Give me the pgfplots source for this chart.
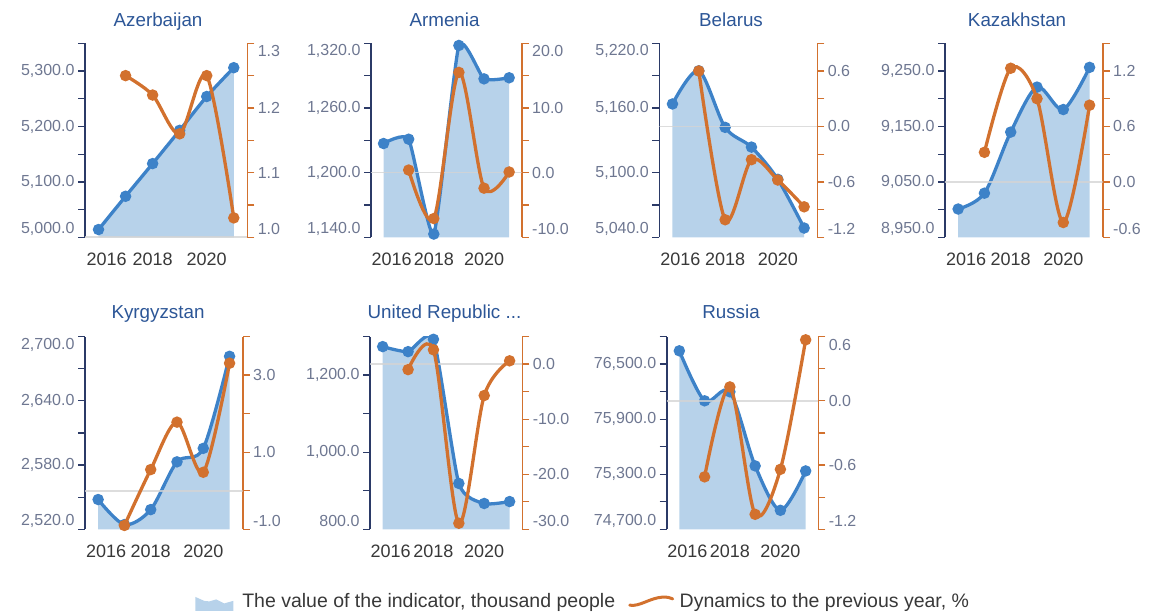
\documentclass[border=0pt]{standalone}
\usepackage{fontspec}
\setmainfont{Liberation Sans}
\usepackage{pgfplots}
\usepackage{pgfplotstable}
\pgfplotsset{compat=1.18}

\definecolor{areab}{HTML}{B7D2EA}
\definecolor{lineb}{HTML}{3D82C8}
\definecolor{orng}{HTML}{D2712E}
\definecolor{navy}{HTML}{2B3A67}
\definecolor{tickg}{HTML}{6E7791}
\definecolor{titleb}{HTML}{2C5697}
\definecolor{xg}{HTML}{383838}
\definecolor{zl}{HTML}{D4D4D4}

\newcommand\botl[1]{\raisebox{8pt}[\height][\depth]{#1}}
\newcommand\topl[1]{\raisebox{-8pt}[\height][\depth]{#1}}

\pgfplotsset{
  base/.style={scale only axis, xmin=2015.5, xmax=2021.5, clip mode=individual,
    scaled y ticks=false,
    tick align=outside, major tick length=7pt, minor tick length=7pt},
  leftax/.style={base, axis y line*=left, axis x line*=bottom,
    x axis line style={draw=none},
    y axis line style={draw=navy, line width=1.6pt, -},
    xtick={2016,2018,2020}, xticklabels={{\hspace*{16pt}2016},2018,2020},
    xticklabel style={font=\fontsize{18}{18}\selectfont, text=xg, yshift=-5pt},
    xtick style={draw=none},
    ytick style={draw=navy, line width=1.3pt},
    yticklabel style={font=\fontsize{16}{16}\selectfont, text=tickg},
    title style={anchor=base, font=\fontsize{18.8}{18.8}\selectfont, text=titleb}},
  rightax/.style={base, axis y line*=right, axis x line=none,
    y axis line style={draw=orng, line width=1.6pt, -},
    ytick style={draw=orng, line width=1.3pt},
    yticklabel style={font=\fontsize{16}{16}\selectfont, text=tickg}},
  areaplot/.style={draw=none, fill=areab, smooth, tension=#1},
  areaplot/.default=0.5,
  blueline/.style={lineb, line width=3.3pt, smooth, tension=#1, mark=*, mark size=4pt, mark options={draw=none, fill=lineb}},
  blueline/.default=0.5,
  orangeline/.style={orng, line width=3.3pt, smooth, tension=0.5, mark=*, mark size=4pt, mark options={draw=none, fill=orng}, forget plot},
  zeroline/.style={zl, line width=1.6pt, opacity=0.8, forget plot},
}

% value of the indicator, thousand people
\pgfplotstableread{
year v
2016 5014
2017 5074
2018 5133
2019 5193
2020 5254
2021 5306
}\azb
% dynamics to the previous year, %
\pgfplotstableread{
year v
2017 1.25
2018 1.22
2019 1.16
2020 1.25
2021 1.03
}\azo
\pgfplotstableread{
year v
2016 1227
2017 1231
2018 1143
2019 1318
2020 1287
2021 1288
}\amb
\pgfplotstableread{
year v
2017 0.4
2018 -7.1
2019 15.5
2020 -2.4
2021 0.1
}\amo
\pgfplotstableread{
year v
2016 5163.7
2017 5194.5
2018 5142
2019 5123.7
2020 5093.8
2021 5048.6
}\byb
\pgfplotstableread{
year v
2017 0.6
2018 -1.01
2019 -0.36
2020 -0.58
2021 -0.87
}\byo
\pgfplotstableread{
year v
2016 9001
2017 9029.6
2018 9139.8
2019 9221
2020 9180.5
2021 9256.6
}\kzb
\pgfplotstableread{
year v
2017 0.32
2018 1.23
2019 0.90
2020 -0.44
2021 0.83
}\kzo
\pgfplotstableread{
year v
2016 2547.8
2017 2524.4
2018 2538.4
2019 2583
2020 2595.6
2021 2681.6
}\kgb
\pgfplotstableread{
year v
2017 -0.9
2018 0.55
2019 1.78
2020 0.48
2021 3.31
}\kgo
\pgfplotstableread{
year v
2016 1274
2017 1261
2018 1293
2019 919
2020 867
2021 872
}\tzb
\pgfplotstableread{
year v
2017 -1.0
2018 2.6
2019 -28.9
2020 -5.7
2021 0.6
}\tzo
\pgfplotstableread{
year v
2016 76645
2017 76100
2018 76198
2019 75391
2020 74907
2021 75336
}\rub
\pgfplotstableread{
year v
2017 -0.71
2018 0.13
2019 -1.06
2020 -0.64
2021 0.57
}\ruo

\begin{document}
\begin{tikzpicture}[x=1pt,y=1pt]
\useasboundingbox (0,0) rectangle (1153,613);

% ---------------- Azerbaijan
\begin{axis}[leftax, at={(85pt,375.7pt)}, anchor=south west, width=162.3pt, height=194pt,
  ymin=5000, ymax=5350, ytick={5000,5100,5200,5300},
  yticklabels={{\botl{5,000.0}},{5,100.0},{5,200.0},{5,300.0}},
  minor ytick={5050,5150,5250,5350},
  title={Azerbaijan}, title style={at={(0.45,1)}, yshift=10.6pt}]
\addplot[areaplot] table[x=year,y=v]{\azb} \closedcycle;
\addplot[blueline] table[x=year,y=v]{\azb};
\end{axis}
\begin{axis}[rightax, at={(85pt,375.7pt)}, anchor=south west, width=162.3pt, height=194pt,
  ymin=1.0, ymax=1.3, ytick={1.0,1.1,1.2,1.3},
  yticklabels={{\botl{1.0}},{1.1},{1.2},{\topl{1.3}}},
  minor ytick={1.05,1.15,1.25}]
\addplot[zeroline] coordinates {(2015.5,1.0) (2021.5,1.0)};
\addplot[orangeline] table[x=year,y=v]{\azo};
\end{axis}

% ---------------- Armenia
\begin{axis}[leftax, at={(371pt,375.7pt)}, anchor=south west, width=150.7pt, height=194pt,
  ymin=1140, ymax=1320, ytick={1140,1200,1260,1320},
  yticklabels={{\botl{1,140.0}},{1,200.0},{1,260.0},{\topl{1,320.0}}},
  minor ytick={1170,1230,1290},
  title={Armenia}, title style={at={(0.488,1)}, yshift=10.6pt}]
\addplot[areaplot=0.3] table[x=year,y=v]{\amb} \closedcycle;
\addplot[blueline=0.3] table[x=year,y=v]{\amb};
\end{axis}
\begin{axis}[rightax, at={(371pt,375.7pt)}, anchor=south west, width=150.7pt, height=194pt,
  ymin=-10, ymax=20, ytick={-10,0,10,20},
  yticklabels={{\botl{-10.0}},{0.0},{10.0},{\topl{20.0}}},
  minor ytick={-5,5,15}]
\addplot[zeroline] coordinates {(2015.5,0) (2021.5,0)};
\addplot[orangeline] table[x=year,y=v]{\amo};
\end{axis}

% ---------------- Belarus
\begin{axis}[leftax, at={(659.3pt,375.7pt)}, anchor=south west, width=158pt, height=194pt,
  ymin=5040, ymax=5220, ytick={5040,5100,5160,5220},
  yticklabels={{\botl{5,040.0}},{5,100.0},{5,160.0},{\topl{5,220.0}}},
  minor ytick={5070,5130,5190},
  title={Belarus}, title style={at={(0.454,1)}, yshift=10.6pt}]
\addplot[areaplot] table[x=year,y=v]{\byb} \closedcycle;
\addplot[blueline] table[x=year,y=v]{\byb};
\end{axis}
\begin{axis}[rightax, at={(659.3pt,375.7pt)}, anchor=south west, width=158pt, height=194pt,
  ymin=-1.2, ymax=0.9, ytick={-1.2,-0.6,0,0.6},
  yticklabels={{\botl{-1.2}},{-0.6},{0.0},{0.6}},
  minor ytick={-0.9,-0.3,0.3,0.9}]
\addplot[zeroline] coordinates {(2015.5,0) (2021.5,0)};
\addplot[orangeline] table[x=year,y=v]{\byo};
\end{axis}

% ---------------- Kazakhstan
\begin{axis}[leftax, at={(945pt,375.7pt)}, anchor=south west, width=157.7pt, height=194pt,
  ymin=8950, ymax=9300, ytick={8950,9050,9150,9250},
  yticklabels={{\botl{8,950.0}},{9,050.0},{9,150.0},{9,250.0}},
  minor ytick={9000,9100,9200,9300},
  title={Kazakhstan}, title style={at={(0.457,1)}, yshift=10.6pt}]
\addplot[areaplot] table[x=year,y=v]{\kzb} \closedcycle;
\addplot[blueline] table[x=year,y=v]{\kzb};
\end{axis}
\begin{axis}[rightax, at={(945pt,375.7pt)}, anchor=south west, width=157.7pt, height=194pt,
  ymin=-0.6, ymax=1.5, ytick={-0.6,0,0.6,1.2},
  yticklabels={{\botl{-0.6}},{0.0},{0.6},{1.2}},
  minor ytick={-0.3,0.3,0.9,1.5}]
\addplot[zeroline] coordinates {(2015.5,0) (2021.5,0)};
\addplot[orangeline] table[x=year,y=v]{\kzo};
\end{axis}

% ---------------- Kyrgyzstan
\begin{axis}[leftax, at={(85pt,83.7pt)}, anchor=south west, width=157.7pt, height=192.7pt,
  ymin=2520, ymax=2700, ytick={2520,2580,2640,2700},
  yticklabels={{\botl{2,520.0}},{2,580.0},{2,640.0},{\topl{2,700.0}}},
  minor ytick={2550,2610,2670},
  title={Kyrgyzstan}, title style={at={(0.463,1)}, yshift=12.3pt}]
\addplot[areaplot] table[x=year,y=v]{\kgb} \closedcycle;
\addplot[blueline] table[x=year,y=v]{\kgb};
\end{axis}
\begin{axis}[rightax, at={(85pt,83.7pt)}, anchor=south west, width=157.7pt, height=192.7pt,
  ymin=-1, ymax=4, ytick={-1,1,3},
  yticklabels={{\botl{-1.0}},{1.0},{3.0}},
  minor ytick={0,2,4}]
\addplot[zeroline] coordinates {(2015.5,0) (2021.5,0)};
\addplot[orangeline] table[x=year,y=v]{\kgo};
\end{axis}

% ---------------- United Republic ...
\begin{axis}[leftax, at={(370pt,83.7pt)}, anchor=south west, width=152.3pt, height=192.7pt,
  ymin=800, ymax=1300, ytick={800,1000,1200},
  yticklabels={{\botl{800.0}},{1,000.0},{1,200.0}},
  minor ytick={900,1100,1300},
  title={United Republic ...}, title style={at={(0.489,1)}, yshift=12.3pt}]
\addplot[areaplot=0.35] table[x=year,y=v]{\tzb} \closedcycle;
\addplot[blueline=0.35] table[x=year,y=v]{\tzb};
\end{axis}
\begin{axis}[rightax, at={(370pt,83.7pt)}, anchor=south west, width=152.3pt, height=192.7pt,
  ymin=-30, ymax=5, ytick={-30,-20,-10,0},
  yticklabels={{\botl{-30.0}},{-20.0},{-10.0},{0.0}},
  minor ytick={-25,-15,-5,5}]
\addplot[zeroline] coordinates {(2015.5,0) (2021.5,0)};
\addplot[orangeline] table[x=year,y=v]{\tzo};
\end{axis}

% ---------------- Russia
\begin{axis}[leftax, at={(666.7pt,83.7pt)}, anchor=south west, width=151.6pt, height=192.7pt,
  ymin=74700, ymax=76800, ytick={74700,75300,75900,76500},
  yticklabels={{\botl{74,700.0}},{75,300.0},{75,900.0},{76,500.0}},
  minor ytick={75000,75600,76200,76800},
  title={Russia}, title style={at={(0.424,1)}, yshift=12.3pt}]
\addplot[areaplot] table[x=year,y=v]{\rub} \closedcycle;
\addplot[blueline] table[x=year,y=v]{\rub};
\end{axis}
\begin{axis}[rightax, at={(666.7pt,83.7pt)}, anchor=south west, width=151.6pt, height=192.7pt,
  ymin=-1.2, ymax=0.6, ytick={-1.2,-0.6,0,0.6},
  yticklabels={{\botl{-1.2}},{-0.6},{0.0},{\topl{0.6}}},
  minor ytick={-0.9,-0.3,0.3},
  legend style={at={(-3.111,-0.372)}, anchor=west, draw=none, fill=none,
    legend columns=2, font=\fontsize{19.5}{19.5}\selectfont, text=xg,
    inner sep=0pt, /tikz/every even column/.append style={column sep=11pt}},
  legend cell align=left]
\addplot[zeroline] coordinates {(2015.5,0) (2021.5,0)};
\addplot[orangeline] table[x=year,y=v]{\ruo};
\addlegendimage{legend image code/.code={
  \path[draw=none, fill=none] (0pt,0pt) -- (45pt,0pt);
  \fill[areab, draw=none] (0pt,-10pt) -- (0pt,4pt) -- (9pt,0pt) -- (14pt,-0.5pt) -- (21pt,1.5pt) -- (29pt,-2.5pt) -- (38pt,0pt) -- (38pt,-10pt) -- cycle;}}
\addlegendentry{The value of the indicator, thousand people}
\addlegendimage{legend image code/.code={
  \path[draw=none, fill=none] (0pt,0pt) -- (48pt,0pt);
  \draw[orng, line width=3pt, line cap=round] (0pt,-4.3pt) .. controls (10pt,-6pt) and (20pt,3pt) .. (33pt,3.8pt) .. controls (38pt,4pt) and (41pt,3pt) .. (43pt,2pt);}}
\addlegendentry{Dynamics to the previous year, \%}
\end{axis}

\end{tikzpicture}
\end{document}
